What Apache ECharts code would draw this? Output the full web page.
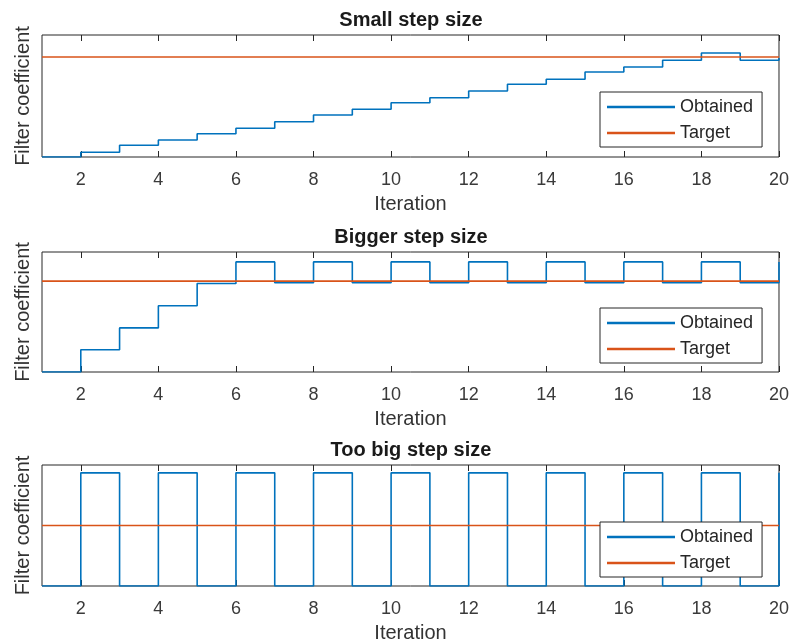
<!DOCTYPE html>
<html>
<head>
<meta charset="utf-8">
<script src="https://cdn.jsdelivr.net/npm/echarts@6/dist/echarts.min.js"></script>
<style>
  html, body { margin: 0; padding: 0; background: #fff; }
  #chart { width: 792px; height: 644px; }
</style>
</head>
<body>
<div id="chart"></div>
<script>
// Iteration index shared by all three panels
const iterations = [1, 2, 3, 4, 5, 6, 7, 8, 9, 10, 11, 12, 13, 14, 15, 16, 17, 18, 19, 20];
const xTicks = [2, 4, 6, 8, 10, 12, 14, 16, 18, 20];

const panelTitles = ['Small step size', 'Bigger step size', 'Too big step size'];
const targetValue = 1;

// Filter coefficient obtained at each iteration
const smallStep = [0, 0.047, 0.117, 0.170, 0.233, 0.287, 0.353, 0.420, 0.477, 0.543,
                   0.593, 0.660, 0.727, 0.777, 0.850, 0.900, 0.967, 1.040, 0.967, 0.990];
const biggerStep = [0, 0.244, 0.485, 0.729, 0.974, 1.211, 0.981, 1.211, 0.981, 1.211,
                    0.981, 1.211, 0.981, 1.211, 0.981, 1.211, 0.981, 1.211, 0.981, 1.211];
const tooBigStep = [0, 1.87, 0, 1.87, 0, 1.87, 0, 1.87, 0, 1.87,
                    0, 1.87, 0, 1.87, 0, 1.87, 0, 1.87, 0, 1.87];

const panelSeries = [smallStep, biggerStep, tooBigStep];
const yMax = [1.22, 1.32, 2];

const INK = '#262626';
const BLUE = '#0072BD';
const ORANGE = '#D95319';
const FONT = 'Liberation Sans, Arial, Helvetica, sans-serif';

const grids = [
  { top: 35, height: 122 },
  { top: 252, height: 120 },
  { top: 465, height: 122 }
];
const legendTops = [92, 308, 522];

const option = {
  animation: false,
  backgroundColor: '#fff',
  textStyle: { fontFamily: FONT },
  title: [],
  grid: [],
  xAxis: [],
  yAxis: [],
  legend: [],
  series: []
};

grids.forEach((g, i) => {
  option.grid.push({
    left: 42, right: 12, top: g.top, height: g.height,
    show: true, borderColor: INK, borderWidth: 1, backgroundColor: '#fff',
    containLabel: false
  });

  option.title.push({
    text: panelTitles[i],
    left: 411, top: g.top - 25, textAlign: 'center', padding: 0,
    textStyle: { fontFamily: FONT, fontSize: 20, fontWeight: 'bold', color: '#1a1a1a' }
  });

  // bottom axis with labels
  option.xAxis.push({
    type: 'value', gridIndex: i, position: 'bottom', min: 1, max: 20,
    name: 'Iteration', nameLocation: 'middle', nameGap: 37,
    nameTextStyle: { fontFamily: FONT, fontSize: 20, color: '#333' },
    axisLine: { show: false },
    axisTick: { show: true, inside: true, length: 6, customValues: xTicks, lineStyle: { color: INK } },
    axisLabel: { show: true, margin: 14, customValues: xTicks, fontFamily: FONT, fontSize: 18, color: '#3a3a3a' },
    splitLine: { show: false }
  });
  // mirrored top axis: ticks only
  option.xAxis.push({
    type: 'value', gridIndex: i, position: 'top', min: 1, max: 20,
    axisLine: { show: false },
    axisTick: { show: true, inside: true, length: 6, customValues: xTicks, lineStyle: { color: INK } },
    axisLabel: { show: false },
    splitLine: { show: false }
  });

  option.yAxis.push({
    type: 'value', gridIndex: i, min: 0, max: yMax[i],
    name: 'Filter coefficient', nameLocation: 'middle', nameGap: 9,
    nameTextStyle: { fontFamily: FONT, fontSize: 20, color: '#333' },
    axisLine: { show: false }, axisTick: { show: false }, axisLabel: { show: false },
    splitLine: { show: false }
  });

  option.series.push({
    name: 'Obtained', type: 'line', step: 'end',
    xAxisIndex: 2 * i, yAxisIndex: i,
    data: iterations.map((x, k) => [x, panelSeries[i][k]]),
    symbol: 'none', color: BLUE,
    lineStyle: { color: BLUE, width: 1.6 },
    z: 2
  });
  option.series.push({
    name: 'Target', type: 'line',
    xAxisIndex: 2 * i, yAxisIndex: i,
    data: [[iterations[0], targetValue], [iterations[iterations.length - 1], targetValue]],
    symbol: 'none', color: ORANGE,
    lineStyle: { color: ORANGE, width: 1.6 },
    z: 3
  });

  option.legend.push({
    data: ['Obtained', 'Target'],
    orient: 'vertical', left: 600, top: legendTops[i],
    padding: [6, 9, 5, 7], itemGap: 8,
    itemWidth: 68, itemHeight: 2.5, icon: 'rect',
    backgroundColor: '#fff', borderColor: INK, borderWidth: 1, borderRadius: 0,
    selectedMode: false,
    textStyle: { fontFamily: FONT, fontSize: 18, color: INK, padding: [0, 0, 0, 0] },
    z: 10
  });
});

const chart = echarts.init(document.getElementById('chart'), null, { renderer: 'canvas' });
chart.setOption(option);
</script>
</body>
</html>
